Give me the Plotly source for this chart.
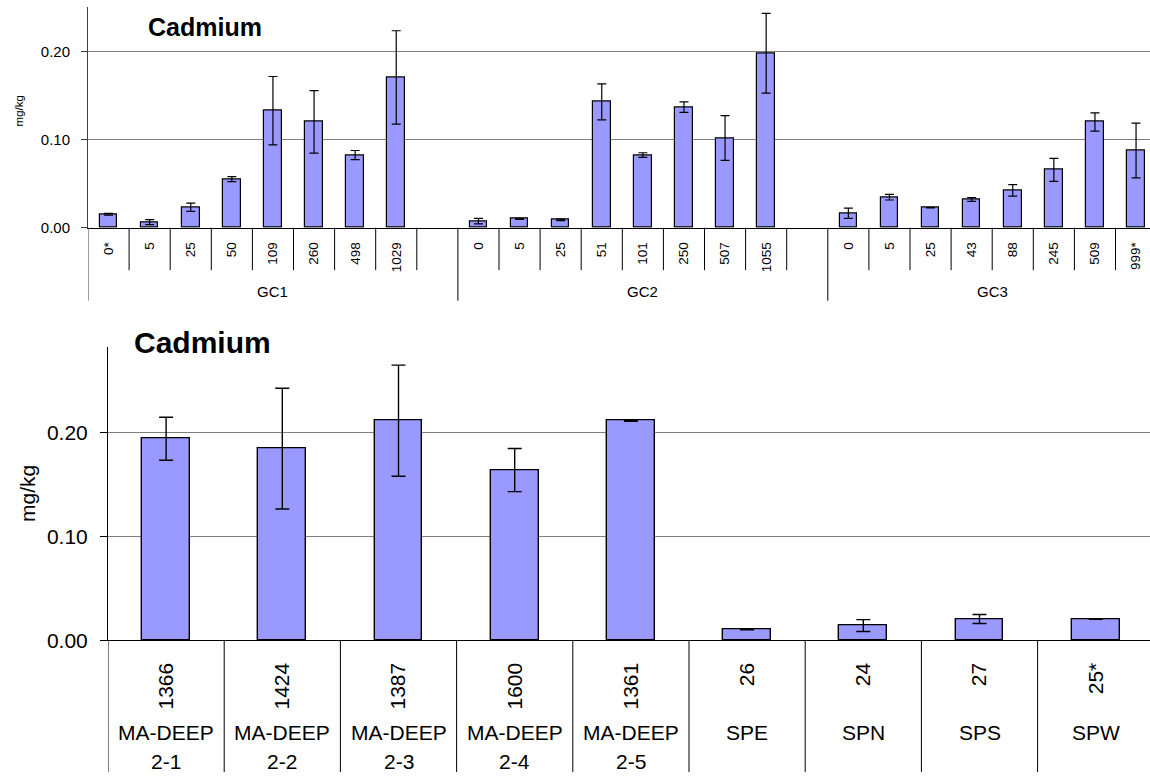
import plotly.graph_objects as go

# ---- upper panel: gravity cores, Cd by depth (mean ± error) ----
gc_groups = ["GC1", "GC2", "GC3"]
gc_depths = [
    ["0*", "5", "25", "50", "109", "260", "498", "1029"],
    ["0", "5", "25", "51", "101", "250", "507", "1055"],
    ["0", "5", "25", "43", "88", "245", "509", "999*"],
]
gc1_cd = [0.0153, 0.0064, 0.0232, 0.0552, 0.1329, 0.1202, 0.0825, 0.1706]
gc1_err = [0.0010, 0.0028, 0.0047, 0.0028, 0.0388, 0.0355, 0.0052, 0.0530]
gc2_cd = [0.0075, 0.0101, 0.0090, 0.1429, 0.0825, 0.1369, 0.1018, 0.1981]
gc2_err = [0.0032, 0.0005, 0.0008, 0.0205, 0.0026, 0.0060, 0.0254, 0.0453]
gc3_cd = [0.0164, 0.0347, 0.0227, 0.0321, 0.0425, 0.0657, 0.1201, 0.0877]
gc3_err = [0.0058, 0.0032, 0.0003, 0.0022, 0.0065, 0.0130, 0.0104, 0.0310]

# ---- lower panel: stations ----
site_depths = ["1366", "1424", "1387", "1600", "1361", "26", "24", "27", "25*"]
site_names = ["MA-DEEP", "MA-DEEP", "MA-DEEP", "MA-DEEP", "MA-DEEP",
              "SPE", "SPN", "SPS", "SPW"]
site_sub = ["2-1", "2-2", "2-3", "2-4", "2-5", "", "", "", ""]
site_cd = [0.1937, 0.1842, 0.2110, 0.1636, 0.2110, 0.0107, 0.0142, 0.0205, 0.0205]
site_err = [0.0207, 0.0580, 0.0534, 0.0207, 0.0005, 0.0005, 0.0057, 0.0043, 0.0003]

W, H = 1150, 783
FONT = "Liberation Sans, Arial, sans-serif"
BAR_FILL = "#9999FF"


def py(p):
    """pixel row -> paper y"""
    return 1 - p / H


def px(p):
    return p / W


fig = go.Figure()

# upper panel slot positions: 8 depths per core, one empty slot after each core
slots_per_group = 9
gc_cd = [gc1_cd, gc2_cd, gc3_cd]
gc_err = [gc1_err, gc2_err, gc3_err]
top_x, top_y, top_e, top_lbl = [], [], [], []
for g in range(len(gc_groups)):
    for i, d in enumerate(gc_depths[g]):
        top_x.append(g * slots_per_group + i)
        top_y.append(gc_cd[g][i])
        top_e.append(gc_err[g][i])
        top_lbl.append(d)

fig.add_trace(go.Bar(
    x=top_x, y=top_y, width=0.43,
    marker=dict(color=BAR_FILL, line=dict(color="black", width=1.2)),
    error_y=dict(type="data", array=top_e, visible=True, color="black",
                 thickness=1.2, width=4.5),
    xaxis="x", yaxis="y", showlegend=False, hoverinfo="x+y",
))

bot_x = list(range(len(site_cd)))
fig.add_trace(go.Bar(
    x=bot_x, y=site_cd, width=0.41,
    marker=dict(color=BAR_FILL, line=dict(color="black", width=1.4)),
    error_y=dict(type="data", array=site_err, visible=True, color="black",
                 thickness=1.4, width=7),
    xaxis="x2", yaxis="y2", showlegend=False, hoverinfo="x+y",
))

top_left, top_step = 88, 41.1
bot_left, bot_step = 108, 116.2
top_y0, top_y1 = 231, 7.6
bot_y0, bot_y1 = 649.5, 352.3

fig.update_layout(
    width=W, height=H,
    margin=dict(l=0, r=0, t=0, b=0),
    paper_bgcolor="white", plot_bgcolor="white",
    font=dict(family=FONT, color="black"),
    bargap=0,
    xaxis=dict(
        domain=[px(top_left), 1],
        range=[-0.5, -0.5 + (W - top_left) / top_step],
        tickvals=top_x, ticktext=top_lbl, tickangle=-90,
        tickfont=dict(size=13.5), ticks="", ticklabelstandoff=8,
        showline=True, linecolor="black", linewidth=1,
        showgrid=False, zeroline=False, anchor="y",
    ),
    yaxis=dict(
        domain=[py(top_y0), py(top_y1)],
        range=[0, 0.25],
        tickvals=[0, 0.1, 0.2], tickformat=".2f",
        tickfont=dict(size=15), ticks="outside", ticklen=6,
        tickcolor="#404040", ticklabelstandoff=8,
        showline=True, linecolor="#404040", linewidth=1,
        showgrid=True, gridcolor="#808080", gridwidth=1,
        zeroline=False, anchor="x",
    ),
    xaxis2=dict(
        domain=[px(bot_left), 1],
        range=[-0.5, -0.5 + (W - bot_left) / bot_step],
        tickvals=bot_x, ticktext=site_depths, tickangle=-90,
        tickfont=dict(size=21), ticks="", ticklabelstandoff=13,
        showline=True, linecolor="black", linewidth=1,
        showgrid=False, zeroline=False, anchor="y2",
    ),
    yaxis2=dict(
        domain=[py(bot_y0), py(bot_y1)],
        range=[0, 0.2815],
        tickvals=[0, 0.1, 0.2], tickformat=".2f",
        tickfont=dict(size=21), ticks="outside", ticklen=7,
        tickcolor="black", ticklabelstandoff=8,
        showline=True, linecolor="black", linewidth=1,
        showgrid=True, gridcolor="#808080", gridwidth=1.3,
        zeroline=False, anchor="x2",
    ),
)

shapes = []
line_k = dict(color="black", width=1)
# upper category dividers: short within cores, tall between cores
n_slots = slots_per_group * len(gc_groups)
for g in range(len(gc_groups)):
    for i in range(1, slots_per_group):
        xb = g * slots_per_group + i - 0.5
        shapes.append(dict(type="line", xref="x", yref="paper", x0=xb, x1=xb,
                           y0=py(top_y0), y1=py(274), line=line_k))
    if g > 0:
        xb = g * slots_per_group - 0.5
        shapes.append(dict(type="line", xref="x", yref="paper", x0=xb, x1=xb,
                           y0=py(top_y0), y1=py(305), line=line_k))
# y-axis line continued through the category band
shapes.append(dict(type="line", xref="x", yref="paper", x0=-0.5, x1=-0.5,
                   y0=py(top_y0), y1=py(305), line=dict(color="#404040", width=1)))

# lower category dividers
for k in range(len(site_cd) + 1):
    shapes.append(dict(type="line", xref="x2", yref="paper", x0=k - 0.5, x1=k - 0.5,
                       y0=py(bot_y0), y1=0, line=line_k))
fig.update_layout(shapes=shapes)

ann = []
# core group labels, centred under each core's span (last core has no trailing slot)
for g, name in enumerate(gc_groups):
    start = g * slots_per_group - 0.5
    end = start + (slots_per_group if g < len(gc_groups) - 1 else len(gc_depths[g]))
    ann.append(dict(text=name, xref="x", yref="paper", x=(start + end) / 2,
                    y=py(296), showarrow=False, font=dict(size=15),
                    xanchor="center", yanchor="middle"))
# station names
for k, (nm, sub) in enumerate(zip(site_names, site_sub)):
    ann.append(dict(text=nm, xref="x2", yref="paper", x=k, y=py(743),
                    showarrow=False, font=dict(size=21),
                    xanchor="center", yanchor="middle"))
    if sub:
        ann.append(dict(text=sub, xref="x2", yref="paper", x=k, y=py(772),
                        showarrow=False, font=dict(size=21),
                        xanchor="center", yanchor="middle"))
# titles and axis labels
ann.append(dict(text="<b>Cadmium</b>", xref="paper", yref="paper",
                x=px(205), y=py(27), showarrow=False, font=dict(size=25),
                xanchor="center", yanchor="middle"))
ann.append(dict(text="<b>Cadmium</b>", xref="paper", yref="paper",
                x=px(202), y=py(347), showarrow=False, font=dict(size=30),
                xanchor="center", yanchor="middle"))
ann.append(dict(text="mg/kg", xref="paper", yref="paper", textangle=-90,
                x=px(19), y=py(113), showarrow=False, font=dict(size=11.5),
                xanchor="center", yanchor="middle"))
ann.append(dict(text="mg/kg", xref="paper", yref="paper", textangle=-90,
                x=px(28), y=py(501), showarrow=False, font=dict(size=21),
                xanchor="center", yanchor="middle"))
fig.update_layout(annotations=ann)

fig.write_html("out.html")
